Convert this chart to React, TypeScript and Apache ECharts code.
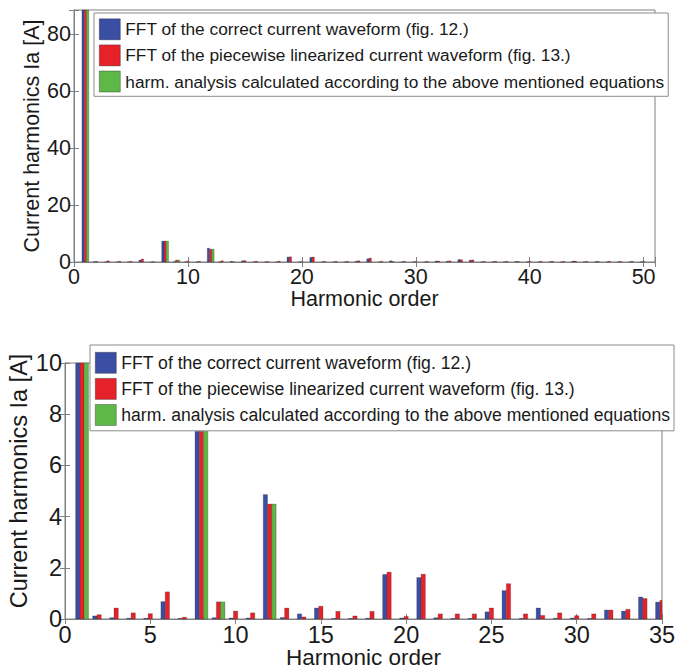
import React, { useEffect, useRef } from "react";
import * as echarts from "echarts";

const harmonics = [
  1, 2, 3, 4, 5, 6, 7, 8, 9, 10, 11, 12, 13, 14, 15, 16, 17, 18, 19, 20, 21, 22, 23, 24, 25,
  26, 27, 28, 29, 30, 31, 32, 33, 34, 35, 36, 37, 38, 39, 40, 41, 42, 43, 44, 45, 46, 47, 48, 49, 50,
];

const fftCorrect = [
  88.5, 0.12, 0.05, 0.03, 0.03, 0.68, 0.02, 7.33, 0.05, 0.04, 0.04, 4.86, 0.06, 0.2, 0.43, 0.02, 0.02,
  0.03, 1.74, 0.04, 1.62, 0.05, 0.02, 0.02, 0.28, 1.11, 0.02, 0.43, 0.03, 0.04, 0.02, 0.35, 0.31, 0.86,
  0.66, 0.05, 0.1, 0.05, 0.2, 0.05, 0.05, 0.1, 0.05, 0.3, 0.05, 0.1, 0.05, 0.1, 0.05, 0.05,
];

const fftPiecewise = [
  88.5, 0.17, 0.43, 0.24, 0.21, 1.06, 0.07, 7.33, 0.67, 0.31, 0.24, 4.49, 0.43, 0.08, 0.5, 0.3, 0.12,
  0.3, 1.83, 0.1, 1.75, 0.2, 0.2, 0.2, 0.43, 1.38, 0.2, 0.14, 0.24, 0.13, 0.2, 0.35, 0.38, 0.8, 0.73,
  0.2, 0.25, 0.2, 0.15, 0.2, 0.2, 0.25, 0.2, 0.35, 0.2, 0.2, 0.25, 0.15, 0.2, 0.2,
];

const analysisHarmonics = [1, 8, 9, 12];
const analysisValues = [88.5, 7.33, 0.67, 4.49];

const seriesNames = [
  "FFT of the correct current waveform (fig. 12.)",
  "FFT of the piecewise linearized current waveform (fig. 13.)",
  "harm. analysis calculated according to the above mentioned equations",
];
const seriesColors = ["#3A4FA3", "#E52229", "#5DB847"];

const yTitle = "Current harmonics Ia [A]";
const xTitle = "Harmonic order";

const FONT = "Liberation Sans, Arial, Helvetica, sans-serif";
const TXT = "#1a1a1a";
const FRAME = "#808080";

export default function App() {
  const ref = useRef<HTMLDivElement>(null);

  useEffect(() => {
    if (!ref.current) return;
    const chart = echarts.init(ref.current, undefined, { renderer: "svg" });

    const pairs = (xs: number[], ys: number[], maxX: number) =>
      xs.map((x, i) => [x, ys[i]]).filter((p) => p[0] <= maxX);

    const xAxisCfg = (grid: number, max: number, interval: number, fs: number, primary: boolean, nameGap: number, nameFs: number) => ({
      type: "value",
      gridIndex: grid,
      position: primary ? "bottom" : "top",
      min: 0,
      max,
      interval,
      name: primary ? xTitle : "",
      nameLocation: "middle",
      nameGap,
      nameMoveOverlap: false,
      nameTextStyle: { fontSize: nameFs, lineHeight: nameFs, fontFamily: FONT, color: TXT },
      axisLine: { show: true, lineStyle: { color: FRAME, width: 1 } },
      axisTick: { show: true, inside: true, length: 5, lineStyle: { color: FRAME } },
      axisLabel: {
        show: primary,
        fontSize: fs,
        lineHeight: fs,
        fontFamily: FONT,
        color: TXT,
        margin: 4,
        formatter: (v: number) => (v % interval === 0 ? String(v) : ""),
      },
      splitLine: { show: false },
    });

    const yAxisCfg = (grid: number, max: number, interval: number, fs: number, primary: boolean, nameGap: number, padding: number[]) => ({
      type: "value",
      gridIndex: grid,
      position: primary ? "left" : "right",
      min: 0,
      max,
      interval,
      name: primary ? yTitle : "",
      nameLocation: "middle",
      nameGap,
      nameMoveOverlap: false,
      nameTextStyle: { fontSize: fs, lineHeight: fs, fontFamily: FONT, color: TXT, padding },
      axisLine: { show: true, lineStyle: { color: FRAME, width: 1 } },
      axisTick: { show: true, inside: true, length: 5, lineStyle: { color: FRAME } },
      axisLabel: {
        show: primary,
        fontSize: fs,
        lineHeight: fs,
        fontFamily: FONT,
        color: TXT,
        margin: 3,
        formatter: (v: number) => (v % interval === 0 ? String(v) : ""),
      },
      splitLine: { show: false },
    });

    const makeRender = (slot: number, bw: number, color: string) => (params: any, api: any) => {
      const x = api.value(0);
      const y = api.value(1);
      const base = api.coord([x, 0]);
      const top = api.coord([x, y]);
      const cs = params.coordSys;
      const rect = echarts.graphic.clipRectByRect(
        { x: base[0] + (slot - 1.5) * bw, y: top[1], width: bw, height: base[1] - top[1] },
        { x: cs.x, y: cs.y, width: cs.width, height: cs.height }
      );
      if (!rect) return null;
      return {
        type: "rect",
        shape: rect,
        style: { fill: color, stroke: "rgba(30,30,30,0.45)", lineWidth: 0.5 },
      };
    };

    const barSeries = (xIdx: number, yIdx: number, bw: number, maxX: number) => {
      const sets = [
        pairs(harmonics, fftCorrect, maxX),
        pairs(harmonics, fftPiecewise, maxX),
        pairs(analysisHarmonics, analysisValues, maxX),
      ];
      return sets.map((data, k) => ({
        name: seriesNames[k],
        type: "custom",
        xAxisIndex: xIdx,
        yAxisIndex: yIdx,
        itemStyle: { color: seriesColors[k], borderColor: "rgba(30,30,30,0.6)", borderWidth: 0.6 },
        encode: { x: 0, y: 1 },
        renderItem: makeRender(k, bw, seriesColors[k]),
        data,
      }));
    };

    const legendCfg = (left: number, top: number, fs: number, padding: number[]) => ({
      data: seriesNames.map((n, k) => ({
        name: n,
        icon: "rect",
        itemStyle: { color: seriesColors[k], borderColor: "rgba(30,30,30,0.6)", borderWidth: 0.6 },
      })),
      orient: "vertical",
      left,
      top,
      itemWidth: 21,
      itemHeight: 21,
      itemGap: 4.5,
      padding,
      backgroundColor: "#ffffff",
      borderColor: "#8c8c8c",
      borderWidth: 1,
      selectedMode: false,
      textStyle: { fontSize: fs, fontFamily: FONT, color: TXT },
    });

    chart.setOption({
      animation: false,
      backgroundColor: "#ffffff",
      grid: [
        { left: 74, right: 21, top: 10, height: 252, show: true, borderColor: FRAME, borderWidth: 1, backgroundColor: "#fff", outerBoundsMode: "none" },
        { left: 65, right: 14, top: 363, height: 256, show: true, borderColor: FRAME, borderWidth: 1, backgroundColor: "#fff", outerBoundsMode: "none" },
      ],
      xAxis: [
        xAxisCfg(0, 51, 10, 21.5, true, 26, 21.5),
        xAxisCfg(0, 51, 10, 21.5, false, 0, 21.5),
        xAxisCfg(1, 35, 5, 23.5, true, 27, 22.5),
        xAxisCfg(1, 35, 5, 23.5, false, 0, 22.5),
      ],
      yAxis: [
        yAxisCfg(0, 88.5, 20, 21.5, true, 31, [0, 0, 0, 0]),
        yAxisCfg(0, 88.5, 20, 21.5, false, 0, [0, 0, 0, 0]),
        yAxisCfg(1, 10, 2, 23.5, true, 34, [0, 0, 0, 20]),
        yAxisCfg(1, 10, 2, 23.5, false, 0, [0, 0, 0, 0]),
      ],
      legend: [legendCfg(94, 13, 17.3, [5.5, 4, 4, 5]), legendCfg(90, 345, 17.6, [7, 4, 5, 5])],
      series: [...barSeries(0, 0, 2.3, 51), ...barSeries(2, 2, 4.3, 35)],
    });

    return () => chart.dispose();
  }, []);

  return (
    <div
      ref={ref}
      style={{ position: "fixed", left: 0, top: 0, width: 676, height: 666, background: "#fff" }}
    />
  );
}
